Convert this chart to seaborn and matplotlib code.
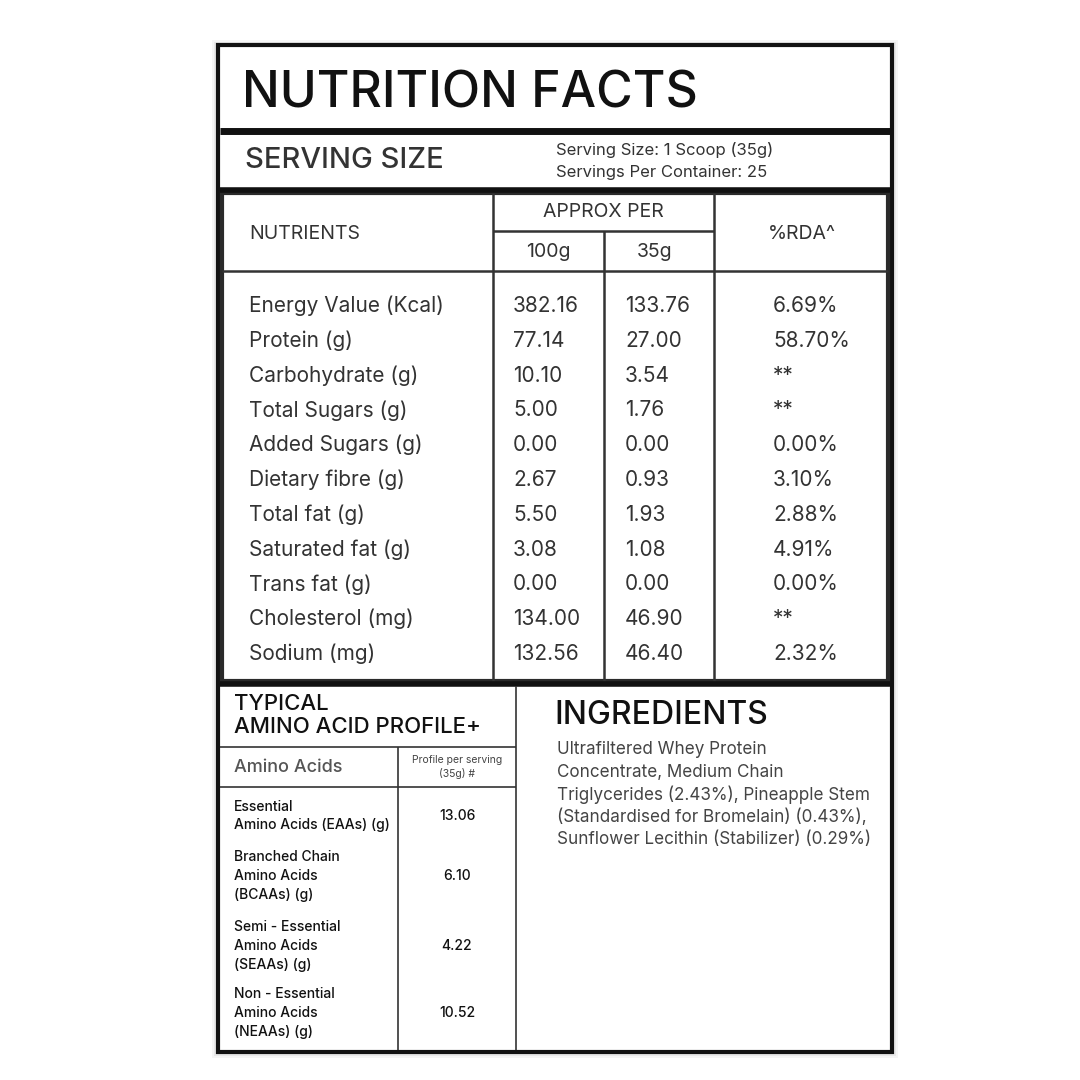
import matplotlib
matplotlib.use("Agg")
import matplotlib.pyplot as plt
import seaborn as sns

sns.set_style("white")
plt.rcParams['font.family'] = ['Inter', 'DejaVu Sans']

nutrients = ["Energy Value (Kcal)", "Protein (g)", "Carbohydrate (g)", "Total Sugars (g)",
             "Added Sugars (g)", "Dietary fibre (g)", "Total fat (g)", "Saturated fat (g)",
             "Trans fat (g)", "Cholesterol (mg)", "Sodium (mg)"]
per100 = ["382.16", "77.14", "10.10", "5.00", "0.00", "2.67", "5.50", "3.08", "0.00", "134.00", "132.56"]
per35 = ["133.76", "27.00", "3.54", "1.76", "0.00", "0.93", "1.93", "1.08", "0.00", "46.90", "46.40"]
rda = ["6.69%", "58.70%", "**", "**", "0.00%", "3.10%", "2.88%", "4.91%", "0.00%", "**", "2.32%"]
amino_labels = ["Essential\nAmino Acids (EAAs) (g)", "Branched Chain\nAmino Acids\n(BCAAs) (g)",
                "Semi - Essential\nAmino Acids\n(SEAAs) (g)", "Non - Essential\nAmino Acids\n(NEAAs) (g)"]
amino_values = ["13.06", "6.10", "4.22", "10.52"]
ingredients = ["Ultrafiltered Whey Protein", "Concentrate, Medium Chain",
               "Triglycerides (2.43%), Pineapple Stem", "(Standardised for Bromelain) (0.43%),",
               "Sunflower Lecithin (Stabilizer) (0.29%)"]

fig = plt.figure(figsize=(10.8, 10.8), dpi=100)
ax = fig.add_axes([0, 0, 1, 1])
ax.set_xlim(0, 1080); ax.set_ylim(1080, 0); ax.axis("off")
K = "#111111"; G = "#333333"

def line(x0, x1, y0, y1, lw, c=K):
    ax.plot([x0, x1], [y0, y1], color=c, lw=lw, solid_capstyle="butt")

for i, a in enumerate([0.04, 0.05, 0.07]):
    ax.add_patch(plt.Rectangle((212 + i*2, 40 + i*2), 686 - i*4, 1018 - i*4, fc="#000", alpha=a, lw=0))
ax.add_patch(plt.Rectangle((218, 45), 674, 1007, fc="white", ec=K, lw=3))

ax.text(242, 94, "NUTRITION FACTS", fontsize=36, va="center", color=K, fontweight="medium")
line(220, 890, 131, 131, 5)
ax.text(245, 161, "SERVING SIZE", fontsize=21, va="center", color=G, fontweight="medium")
ax.text(556, 150, "Serving Size: 1 Scoop (35g)", fontsize=12, va="center", color=G)
ax.text(556, 173, "Servings Per Container: 25", fontsize=12, va="center", color=G)
line(220, 890, 190, 190, 4)

ax.add_patch(plt.Rectangle((222, 193), 666, 488, fc="none", ec="#2a2a2a", lw=3))
line(222, 888, 271, 271, 1.8, G)
line(493, 714, 231, 231, 1.8, G)
for x in (493, 714):
    line(x, x, 193, 681, 1.8, G)
line(604, 604, 231, 681, 1.8, G)
ax.text(249, 234, "NUTRIENTS", fontsize=14, va="center", color=G)
ax.text(603, 212, "APPROX PER", fontsize=14, va="center", ha="center", color=G)
ax.text(548, 252, "100g", fontsize=14, va="center", ha="center", color=G)
ax.text(655, 252, "35g", fontsize=14, va="center", ha="center", color=G)
ax.text(802, 234, "%RDA^", fontsize=14, va="center", ha="center", color=G)
for i, (n, a, b, r) in enumerate(zip(nutrients, per100, per35, rda)):
    y = 306 + i * 34.8
    ax.text(249, y, n, fontsize=15, va="center", color=G)
    ax.text(513, y, a, fontsize=15, va="center", color=G)
    ax.text(625, y, b, fontsize=15, va="center", color=G)
    ax.text(773, y, r, fontsize=15, va="center", color=G)
line(220, 890, 684, 684, 4)

line(516, 516, 686, 1050, 1.2, G)
ax.text(234, 704, "TYPICAL", fontsize=16, va="center", color=K, fontweight="medium")
ax.text(234, 727, "AMINO ACID PROFILE+", fontsize=16, va="center", color=K, fontweight="medium")
line(220, 516, 747, 747, 1.2, G)
line(398, 398, 747, 1050, 1.2, G)
line(220, 516, 787, 787, 1.2, G)
ax.text(234, 768, "Amino Acids", fontsize=13, va="center", color="#555", fontweight="medium")
ax.text(457, 767, "Profile per serving\n(35g) #", fontsize=7.5, va="center", ha="center",
        color="#444", linespacing=1.3)
for lab, v, y in zip(amino_labels, amino_values, [816, 876, 946, 1013]):
    ax.text(234, y, lab, fontsize=10, va="center", color=K, linespacing=1.45, fontweight="medium")
    ax.text(457, y, v, fontsize=10, va="center", ha="center", color=K, fontweight="medium")

ax.text(554, 715, "INGREDIENTS", fontsize=23, va="center", color=K, fontweight="medium")
for i, t in enumerate(ingredients):
    ax.text(557, 750 + i * 22.5, t, fontsize=12.3, va="center", color="#444")

fig.savefig("out.png", dpi=100)
